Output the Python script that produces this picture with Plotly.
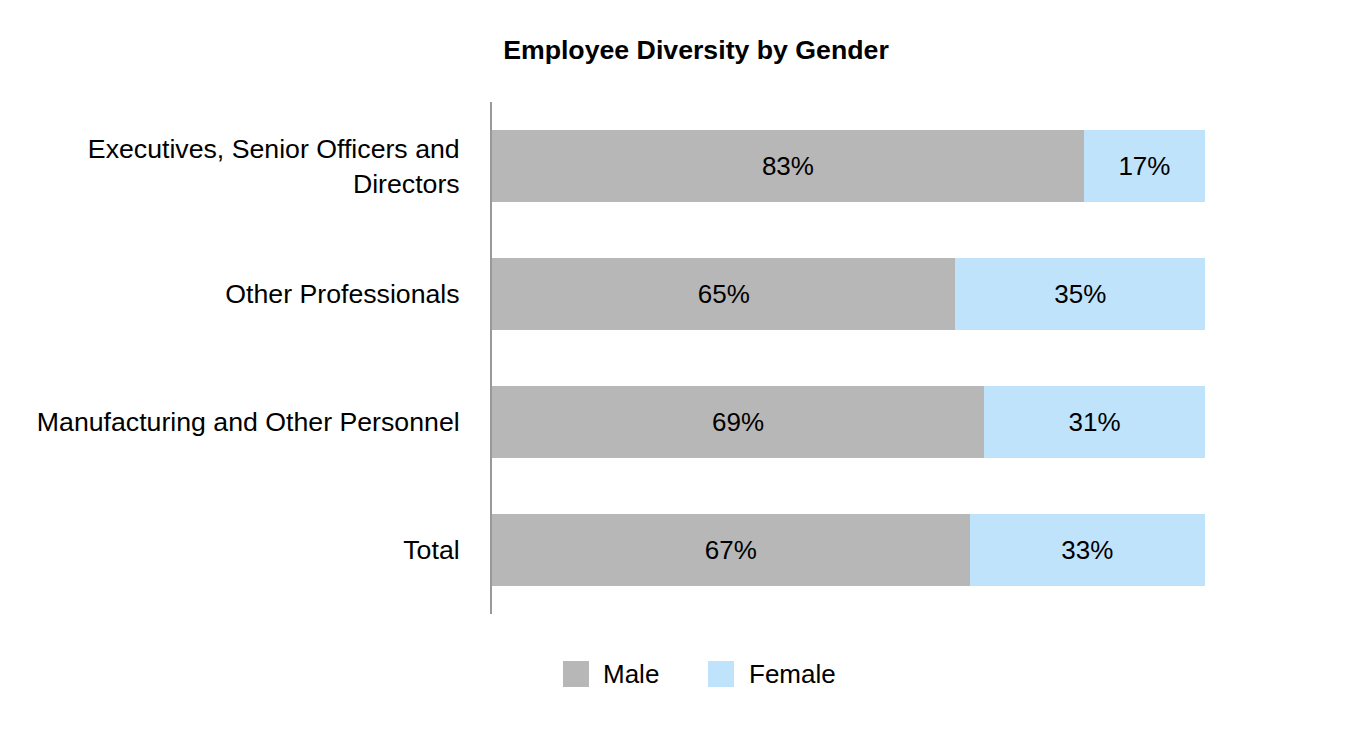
import plotly.graph_objects as go

categories = ["Executives, Senior Officers and<br>Directors", "Other Professionals",
              "Manufacturing and Other Personnel", "Total"]
male = [83, 65, 69, 67]
female = [17, 35, 31, 33]

MALE_COLOR = "#b7b7b7"
FEMALE_COLOR = "#c0e3fc"

fig = go.Figure()
fig.add_trace(go.Bar(
    y=categories, x=male, name="Male", orientation="h",
    marker_color=MALE_COLOR, marker_line_width=0,
    text=[f"{v}%" for v in male], textposition="inside", insidetextanchor="middle",
    textfont=dict(size=26, color="#000000"), showlegend=False,
))
fig.add_trace(go.Bar(
    y=categories, x=female, name="Female", orientation="h",
    marker_color=FEMALE_COLOR, marker_line_width=0,
    text=[f"{v}%" for v in female], textposition="inside", insidetextanchor="middle",
    textfont=dict(size=26, color="#000000"), showlegend=False,
))

# legend drawn by hand so the swatches are as large as in the original
legend_items = [("Male", MALE_COLOR, 0.0996, 0.136, 0.1530),
                ("Female", FEMALE_COLOR, 0.3029, 0.3394, 0.3575)]
for label, color, x0, x1, tx in legend_items:
    fig.add_shape(type="rect", xref="paper", yref="paper", x0=x0, x1=x1,
                  y0=-0.0918, y1=-0.1426, fillcolor=color, line_width=0)
    fig.add_annotation(text=label, xref="paper", yref="paper", x=tx, y=-0.1172,
                       xanchor="left", yanchor="middle", showarrow=False,
                       font=dict(size=26))

fig.update_layout(
    barmode="stack",
    bargap=0.4375,
    width=1350, height=750,
    paper_bgcolor="white", plot_bgcolor="white",
    font=dict(family="Liberation Sans, Arial", size=26.7, color="#000000"),
    title=dict(text="<b>Employee Diversity by Gender</b>", x=0.5096, xanchor="center",
               y=0.944, yanchor="middle", font=dict(size=26.7)),
    margin=dict(l=484, r=153, t=94, b=144),
    xaxis=dict(range=[0, 100], showgrid=False, showticklabels=False, zeroline=False,
               showline=False, fixedrange=True),
    yaxis=dict(autorange="reversed", showline=True, linecolor="#999999", linewidth=2,
               showgrid=False, ticks="", ticklabelstandoff=25),
    showlegend=False,
    uniformtext=dict(mode="show", minsize=26),
)

fig.write_html("out.html")
